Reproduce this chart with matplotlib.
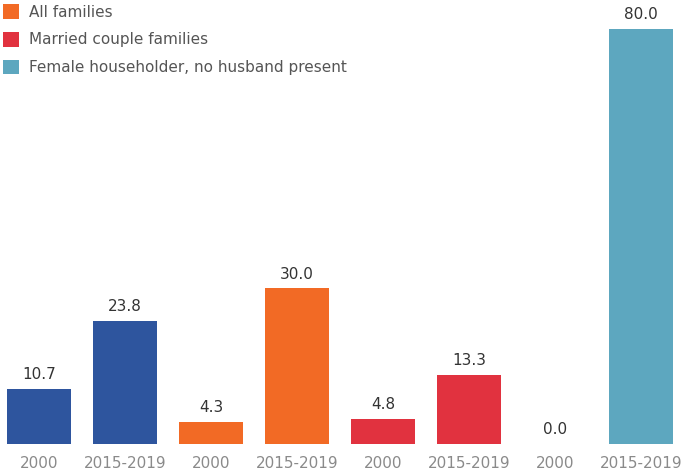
import matplotlib.pyplot as plt
from matplotlib.patches import Patch

# Data
periods = ['2000', '2015-2019', '2000', '2015-2019', '2000', '2015-2019', '2000', '2015-2019']
values = [10.7, 23.8, 4.3, 30.0, 4.8, 13.3, 0.0, 80.0]
bar_colors = ['#2E559E', '#2E559E', '#F26A25', '#F26A25', '#E1323F', '#E1323F', '#5DA7BF', '#5DA7BF']
legend_labels = ['All families', 'Married couple families', 'Female householder, no husband present']
legend_colors = ['#F26A25', '#E1323F', '#5DA7BF']

fig = plt.figure(figsize=(6.84, 4.75), dpi=100)
ax = fig.add_axes([0, 1 - 444 / 475, 1, 444 / 475])

x = list(range(len(values)))
bars = ax.bar(x, values, width=0.745, color=bar_colors)

# value labels above bars
for xi, v in zip(x, values):
    ax.text(xi, v + 1.3, f'{v:.1f}', ha='center', va='bottom', fontsize=11, color='#333333')

ax.set_xlim(-0.453, 7.5)
ax.set_ylim(0, 85.6)
ax.set_xticks(x)
ax.set_xticklabels(periods, fontsize=11, color='#8a8a8a')
ax.tick_params(axis='x', length=0, pad=9)
ax.set_yticks([])
for s in ax.spines.values():
    s.set_visible(False)

# legend in top-left corner
handles = [Patch(facecolor=c, edgecolor='none') for c in legend_colors]
fig.legend(handles, legend_labels, loc='upper left', bbox_to_anchor=(-0.005, 1.004),
           frameon=False, fontsize=11, labelcolor='#555555', handlelength=1.1,
           handleheight=1.1, handletextpad=0.6, labelspacing=0.8, borderaxespad=0)

fig.savefig('out.png', dpi=100)
